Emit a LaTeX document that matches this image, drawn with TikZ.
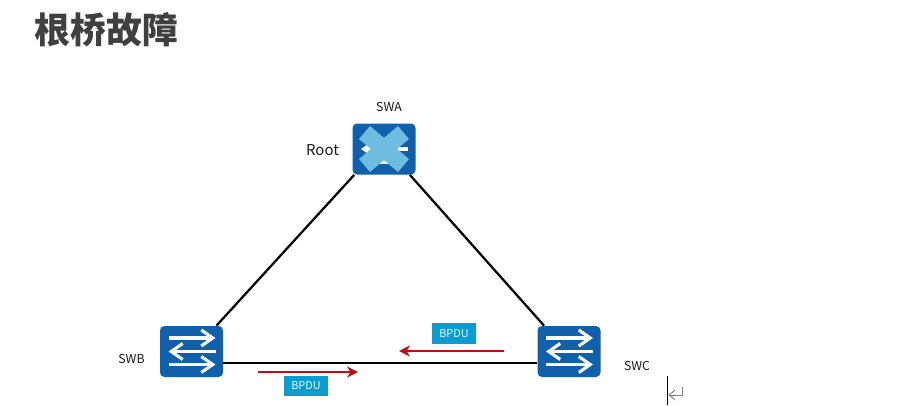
\documentclass[tikz,border=0pt]{standalone}
\usepackage{fontspec}
\setmainfont{Noto Sans CJK SC}
\usepackage{tikz}
\usetikzlibrary{arrows.meta}
\definecolor{swblue}{HTML}{1060AC}
\definecolor{crossblue}{HTML}{6EBCE0}
\definecolor{tagblue}{HTML}{0A9BD0}
\definecolor{bpdured}{HTML}{C00C14}
\tikzset{
  switchbox/.style={fill=swblue, rounded corners=0.09cm, minimum width=1.26cm, minimum height=1.02cm, inner sep=0pt},
  linkline/.style={line width=0.045cm, black},
  bpduarrow/.style={-{Stealth[length=2.2mm, width=2.2mm]}, line width=0.042cm, bpdured},
  bpdutag/.style={fill=tagblue, text=white!92!tagblue, minimum width=0.88cm, minimum height=0.41cm, inner sep=0pt, font=\fontsize{6.2}{7}\selectfont},
  swlabel/.style={font=\fontsize{7}{8}\selectfont, text=black!90},
  glyphline/.style={white, line width=0.062cm, -{Straight Barb[length=2.3mm, width=3.2mm]}},
  pics/switcharrows/.style={code={
    \foreach \ya/\xa/\xb in {0.27/-0.46/0.48, 0/0.48/-0.46, -0.26/-0.46/0.48}
      \draw[glyphline] (\xa,\ya) -- (\xb,\ya);
  }}
}
\begin{document}
\begin{tikzpicture}[>=Latex]
  \useasboundingbox (0,0) rectangle (18.18,8.1);
  \node[font=\bfseries\fontsize{20.4}{24}\selectfont, text=black!75] (title) at (2.13,7.5) {根桥故障};

  \node[switchbox] (swa) at (7.68,5.12) {};
  \node[switchbox] (swb) at (3.83,1.07) {};
  \node[switchbox] (swc) at (11.38,1.07) {};
  \pic at (swb) {switcharrows};
  \pic at (swc) {switcharrows};
  % what shows of the arrows under the cross on the root
  \draw[glyphline] (8.16,5.12) -- (7.22,5.12);
  \draw[white, line width=0.062cm] (7.5,4.86) -- (7.86,4.86);
  \draw[crossblue, line width=0.34cm] (7.29,5.45) -- (8.07,4.79);
  \draw[crossblue, line width=0.34cm] (8.07,5.45) -- (7.29,4.79);

  \draw[linkline] (swa.-139) -- (swb.46);
  \draw[linkline] (swa.-45) -- (swc.134);
  \draw[linkline] (swb.-20) -- (swc.200);

  \node[swlabel] (lblswa) at (7.78,5.96) {SWA};
  \node[swlabel] (lblswb) at (2.63,0.92) {SWB};
  \node[swlabel] (lblswc) at (12.74,0.78) {SWC};
  \node[font=\fontsize{8.5}{10}\selectfont, text=black!90] (lblroot) at (6.45,5.1) {Root};

  \node[bpdutag] (tagc) at (9.08,1.43) {BPDU};
  \node[bpdutag] (tagb) at (6.12,0.38) {BPDU};
  \coordinate (cs) at (10.08,1.08);
  \coordinate (ce) at (7.98,1.08);
  \coordinate (bs) at (5.16,0.66);
  \coordinate (be) at (7.16,0.66);
  \draw[bpduarrow] (cs) -- (ce);
  \draw[bpduarrow] (bs) -- (be);

  % cursor and return mark
  \coordinate (cura) at (13.34,0.58);
  \coordinate (curb) at (13.34,0);
  \coordinate (reta) at (13.64,0.36);
  \coordinate (retb) at (13.64,0.2);
  \coordinate (retc) at (13.37,0.2);
  \draw[black, line width=0.4pt] (cura) -- (curb);
  \draw[gray, line width=0.5pt, -{Straight Barb[length=1.2mm, width=2mm]}] (reta) -- (retb) -- (retc);
\end{tikzpicture}
\end{document}
